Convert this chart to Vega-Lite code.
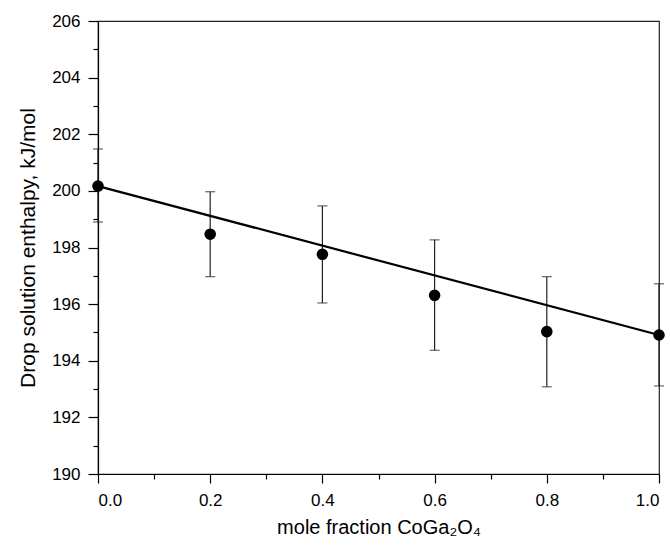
{
  "$schema": "https://vega.github.io/schema/vega-lite/v6.json",
  "width": 561,
  "height": 453,
  "autosize": "none",
  "padding": {"left": 98, "top": 21, "right": 11, "bottom": 71},
  "background": "white",
  "config": {
    "view": {"stroke": "#222", "strokeWidth": 1.2},
    "font": "Liberation Sans",
    "axis": {
      "grid": false,
      "domainColor": "black",
      "domainWidth": 1.2,
      "tickColor": "black",
      "tickWidth": 1.2,
      "labelColor": "black",
      "titleColor": "black",
      "labelFont": "Liberation Sans",
      "titleFont": "Liberation Sans",
      "titleFontWeight": "normal"
    }
  },
  "datasets": {
    "pts": [
      {"x": 0.0, "h": 200.17, "lo": 198.9, "hi": 201.48},
      {"x": 0.2, "h": 198.47, "lo": 196.97, "hi": 199.97},
      {"x": 0.4, "h": 197.76, "lo": 196.04, "hi": 199.47},
      {"x": 0.6, "h": 196.31, "lo": 194.37, "hi": 198.27},
      {"x": 0.8, "h": 195.03, "lo": 193.08, "hi": 196.97},
      {"x": 1.0, "h": 194.91, "lo": 193.11, "hi": 196.72}
    ],
    "fit": [
      {"x": 0.0, "h": 200.17},
      {"x": 1.0, "h": 194.91}
    ]
  },
  "layer": [
    {
      "data": {"name": "pts"},
      "mark": {"type": "rule", "color": "#222", "strokeWidth": 1.2},
      "encoding": {
        "x": {"field": "x", "type": "quantitative", "scale": {"domain": [0, 1], "nice": false},
          "axis": {"values": [0, 0.2, 0.4, 0.6, 0.8, 1.0], "format": ".1f", "tickSize": 9, "labelPadding": 9, "labelFontSize": 17,
            "title": "mole fraction CoGa₂O₄", "titleFontSize": 20, "titlePadding": 9}},
        "y": {"field": "lo", "type": "quantitative", "scale": {"domain": [190, 206], "nice": false, "zero": false},
          "axis": {"values": [190, 192, 194, 196, 198, 200, 202, 204, 206], "tickSize": 10, "labelPadding": 8, "labelFontSize": 17,
            "title": "Drop solution enthalpy, kJ/mol", "titleFontSize": 21, "titlePadding": 13}},
        "y2": {"field": "hi"}
      }
    },
    {
      "data": {"name": "pts"},
      "mark": {"type": "tick", "orient": "horizontal", "size": 10, "thickness": 1.2, "color": "#222"},
      "encoding": {
        "x": {"field": "x", "type": "quantitative", "axis": null},
        "y": {"field": "lo", "type": "quantitative", "axis": null}
      }
    },
    {
      "data": {"name": "pts"},
      "mark": {"type": "tick", "orient": "horizontal", "size": 10, "thickness": 1.2, "color": "#222"},
      "encoding": {
        "x": {"field": "x", "type": "quantitative", "axis": null},
        "y": {"field": "hi", "type": "quantitative", "axis": null}
      }
    },
    {
      "data": {"name": "fit"},
      "mark": {"type": "line", "color": "black", "strokeWidth": 2.2},
      "encoding": {
        "x": {"field": "x", "type": "quantitative", "axis": null},
        "y": {"field": "h", "type": "quantitative", "axis": null}
      }
    },
    {
      "data": {"name": "pts"},
      "mark": {"type": "circle", "color": "black", "opacity": 1, "size": 135},
      "encoding": {
        "x": {"field": "x", "type": "quantitative", "axis": null},
        "y": {"field": "h", "type": "quantitative", "axis": null}
      }
    },
    {
      "data": {"name": "pts"},
      "mark": {"type": "point", "opacity": 0},
      "encoding": {
        "x": {"field": "x", "type": "quantitative",
          "axis": {"orient": "bottom", "values": [0.1, 0.3, 0.5, 0.7, 0.9], "labels": false, "domain": false, "tickSize": 5, "title": null}},
        "y": {"field": "h", "type": "quantitative",
          "axis": {"orient": "left", "values": [191, 193, 195, 197, 199, 201, 203, 205], "labels": false, "domain": false, "tickSize": 5, "title": null}}
      }
    }
  ],
  "resolve": {"axis": {"x": "independent", "y": "independent"}}
}
